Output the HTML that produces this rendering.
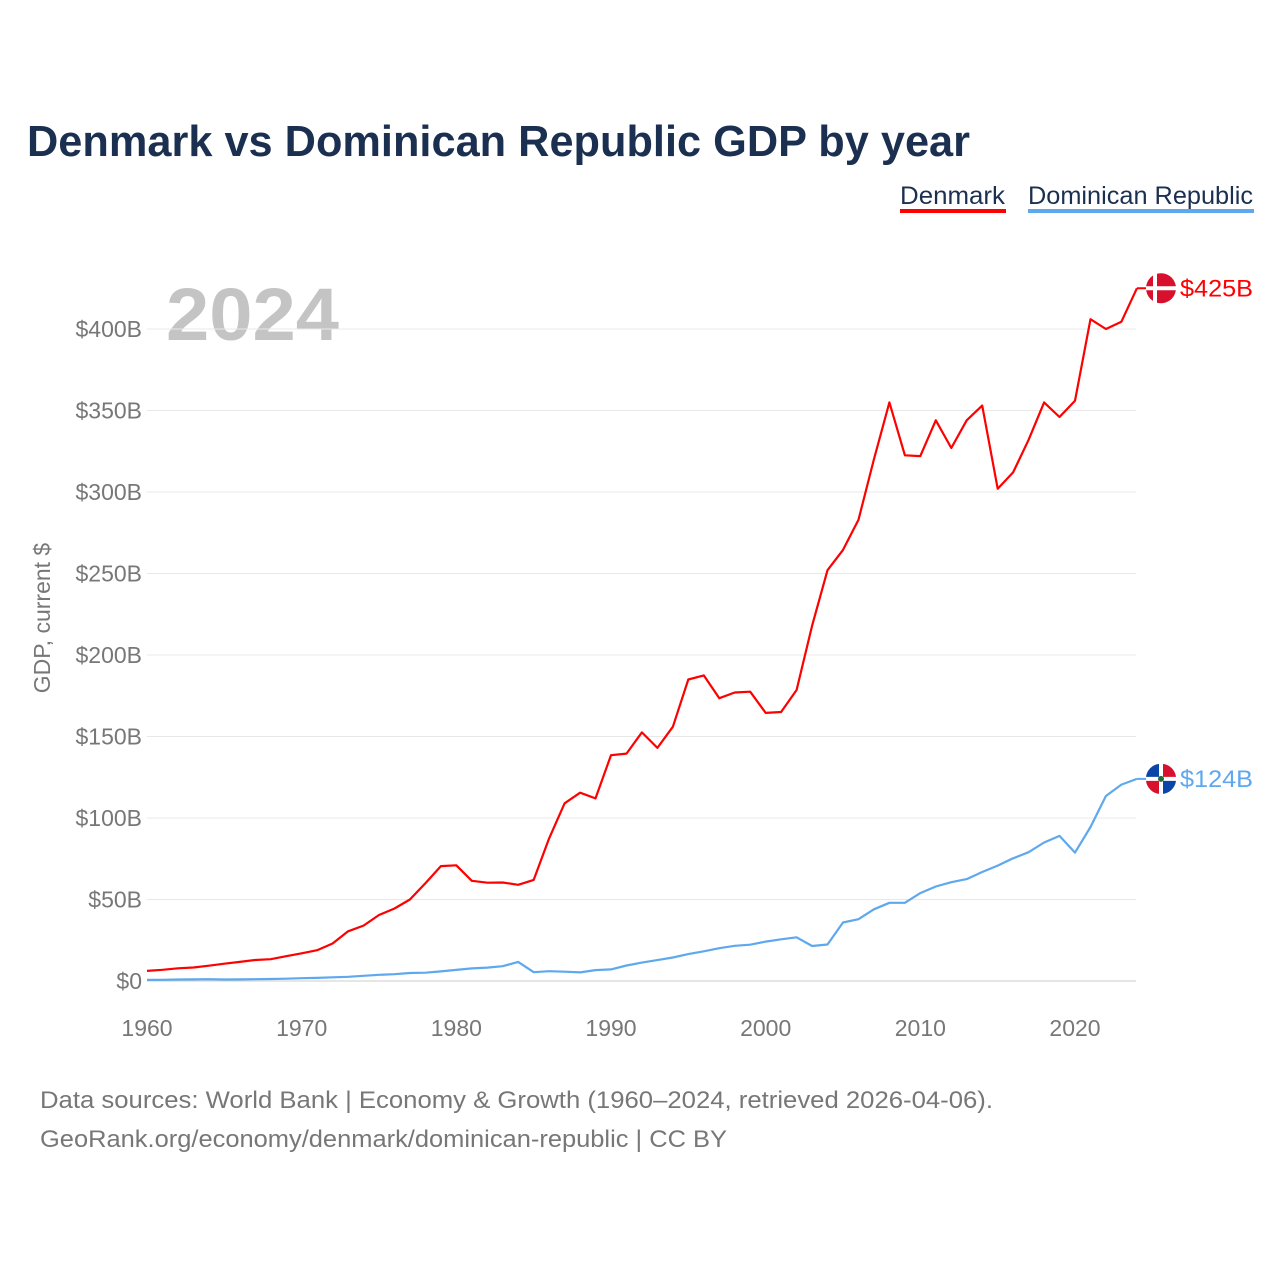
<!DOCTYPE html>
<html><head><meta charset="utf-8"><style>
body{margin:0;background:#fff;font-family:"Liberation Sans",sans-serif}
</style></head><body>
<svg width="1280" height="1280" viewBox="0 0 1280 1280" xmlns="http://www.w3.org/2000/svg">
<text x="27" y="156" font-size="44" font-weight="bold" fill="#1b3050" textLength="943" lengthAdjust="spacingAndGlyphs">Denmark vs Dominican Republic GDP by year</text>
<g><text x="900" y="204" font-size="25" fill="#1b3050" textLength="105" lengthAdjust="spacingAndGlyphs">Denmark</text><rect x="900" y="209" width="106" height="4" fill="#ff0000"/></g>
<g><text x="1028" y="204" font-size="25" fill="#1b3050" textLength="225" lengthAdjust="spacingAndGlyphs">Dominican Republic</text><rect x="1028" y="209" width="226" height="4" fill="#5ea8ee"/></g>
<text x="166" y="340" font-size="74" font-weight="bold" fill="#c4c4c4" textLength="173" lengthAdjust="spacingAndGlyphs">2024</text>
<g id="grid"></g><g id="lines"></g>
<text transform="translate(50,618) rotate(-90)" text-anchor="middle" font-size="23" fill="#777">GDP, current $</text>
<text x="40" y="1108" font-size="24" fill="#777" textLength="953" lengthAdjust="spacingAndGlyphs">Data sources: World Bank | Economy &amp; Growth (1960–2024, retrieved 2026-04-06).</text>
<text x="40" y="1147" font-size="24" fill="#777" textLength="687" lengthAdjust="spacingAndGlyphs">GeoRank.org/economy/denmark/dominican-republic | CC BY</text>
</svg>
<script>
const years=[];for(let y=1960;y<=2024;y++)years.push(y);
const denmark=[6.2,6.9,7.8,8.3,9.4,10.6,11.7,12.9,13.4,15.2,17,18.9,23,30.5,34,40.5,44.5,50,60,70.5,71,61.5,60.3,60.4,59,62,87.5,109,115.5,112,138.5,139.5,152.5,143,156,185,187.5,173.5,177,177.5,164.5,165,178.5,218,252,264.5,283,320,355,322.5,322,344,327,344,353,302,312,332,355,346,356,406,400,404.5,425];
const dominican=[0.7,0.75,0.9,1,1.1,0.9,1,1.1,1.2,1.4,1.7,1.9,2.3,2.6,3.2,3.8,4.2,4.9,5.1,5.9,6.8,7.7,8.2,9.1,11.7,5.4,6.0,5.7,5.3,6.7,7.1,9.5,11.3,12.8,14.4,16.5,18.2,20.1,21.6,22.3,24.2,25.6,26.8,21.5,22.4,35.9,37.9,44,48,48,53.9,58,60.6,62.5,66.9,70.8,75.3,79,85,89,78.8,94.5,113.5,120.5,124];
const yTicks=[0,50,100,150,200,250,300,350,400];
const yTickLabels=['$0','$50B','$100B','$150B','$200B','$250B','$300B','$350B','$400B'];
const xTicks=[1960,1970,1980,1990,2000,2010,2020];
const NS="http://www.w3.org/2000/svg";
const X=v=>147+(v-1960)*(928/60);
const Y=v=>981-v*1.63;
function mk(tag,attrs,parent,txt){const e=document.createElementNS(NS,tag);for(const k in attrs)e.setAttribute(k,attrs[k]);if(txt!=null)e.textContent=txt;parent.appendChild(e);return e;}
const grid=document.getElementById('grid'),lines=document.getElementById('lines');
yTicks.forEach((t,i)=>{
 const l=mk('line',{x1:147,x2:1136,y1:Y(t),y2:Y(t),stroke:t===0?'#ccc':'#e8e8e8','stroke-width':1},grid);
 
 
 const tx=mk('text',{x:142,y:Y(t)+8,'text-anchor':'end','font-size':23,fill:'#777'},grid,yTickLabels[i]);
 
 
});
xTicks.forEach(t=>{
 const tx=mk('text',{x:X(t),y:1036,'text-anchor':'middle','font-size':23,fill:'#777'},grid,t);
 
 
});
function series(vals,color,name,label){
 const d=vals.map((v,i)=>(i?'L':'M')+X(years[i]).toFixed(1)+','+Y(v).toFixed(1)).join(' ');
 const p=mk('path',{d:d,fill:'none',stroke:color,'stroke-width':2.2,'stroke-linejoin':'round'},lines);
 
 
 const last=vals[vals.length-1],ly=Y(last),lx=X(years[years.length-1]);
 mk('line',{x1:lx,x2:1150,y1:ly,y2:ly,stroke:color,'stroke-width':2},lines);
 const g=mk('g',{},lines);
 
 
 if(name==='denmark'){
  mk('circle',{cx:1161,cy:ly,r:15,fill:'#d8102e'},g);
  mk('rect',{x:1153,y:ly-15,width:4,height:30,fill:'#fff'},g);
  mk('rect',{x:1146,y:ly-2,width:30,height:4,fill:'#fff'},g);
 }else{
  mk('circle',{cx:1161,cy:ly,r:15,fill:'#fff'},g);
  mk('path',{d:`M1146,${ly-2} A15,15 0 0 1 1159,${ly-15} L1159,${ly-2}Z`,fill:'#0b45a8'},g);
  mk('path',{d:`M1163,${ly-15} A15,15 0 0 1 1176,${ly-2} L1163,${ly-2}Z`,fill:'#d8102e'},g);
  mk('path',{d:`M1146,${ly+2} A15,15 0 0 0 1159,${ly+15} L1159,${ly+2}Z`,fill:'#d8102e'},g);
  mk('path',{d:`M1163,${ly+15} A15,15 0 0 0 1176,${ly+2} L1163,${ly+2}Z`,fill:'#0b45a8'},g);
  mk('circle',{cx:1161,cy:ly,r:3,fill:'#2a6a3a'},g);
 }
 const t=mk('text',{x:1180,y:ly+8,'font-size':24,fill:color,textLength:73,lengthAdjust:'spacingAndGlyphs'},lines,label);
 
 
}
series(denmark,'#ff0000','denmark','$'+Math.round(denmark[denmark.length-1])+'B');
series(dominican,'#5ea8ee','dominican-republic','$'+Math.round(dominican[dominican.length-1])+'B');
</script>
</body></html>
